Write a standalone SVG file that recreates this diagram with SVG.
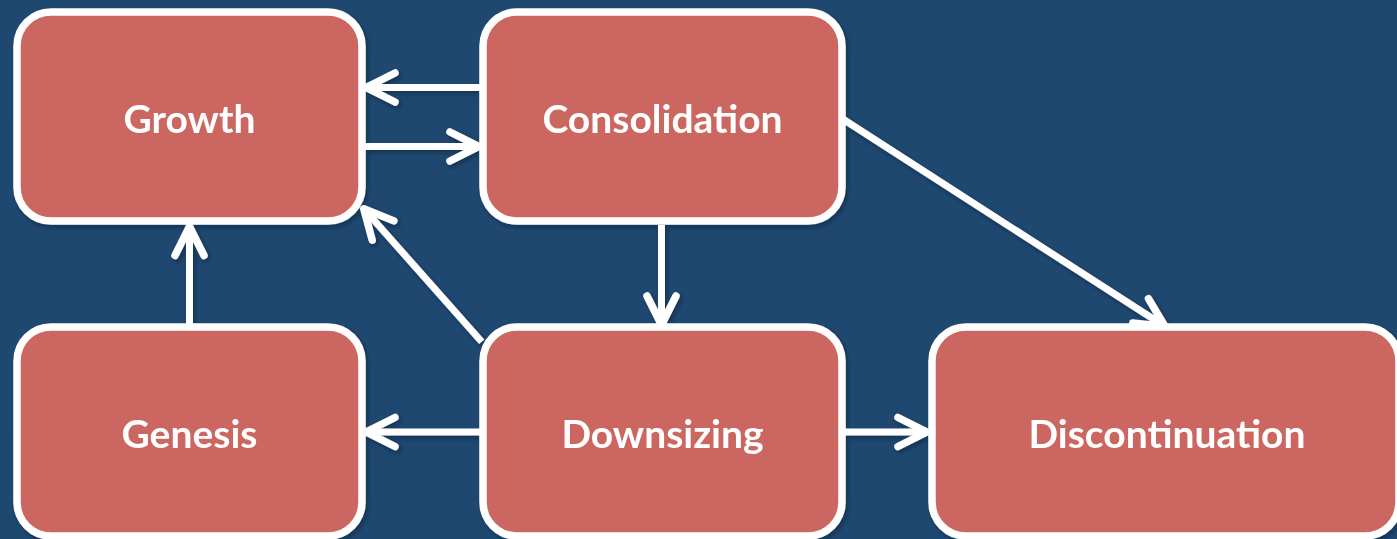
<svg xmlns="http://www.w3.org/2000/svg" width="1397" height="539" viewBox="0 0 1397 539">
  <style>
    .box { fill: #CC6660; stroke: #FFFFFF; stroke-width: 7.5; }
    .lbl { font-family: Lato, "Open Sans", "Liberation Sans", sans-serif; font-weight: bold; font-size: 39px; fill: #FFFFFF; text-anchor: middle; }
    .con { fill: none; stroke: #FFFFFF; stroke-width: 7; marker-end: url(#ah); }
  </style>
  <defs>
    <filter id="sh" filterUnits="userSpaceOnUse" x="0" y="0" width="1397" height="539">
      <feDropShadow dx="2" dy="2.5" stdDeviation="2" flood-color="#0A1A2E" flood-opacity="0.45"/>
    </filter>
    <marker id="ah" markerUnits="userSpaceOnUse" viewBox="-40 -25 50 50" refX="0" refY="0" markerWidth="50" markerHeight="50" orient="auto" overflow="visible">
      <path d="M-29,-14.5 L0,0 L-29,14.5" fill="none" stroke="#FFFFFF" stroke-width="7.5" stroke-linecap="round" stroke-linejoin="round"/>
    </marker>
  </defs>
  <rect width="1397" height="539" fill="#1F4870"/>

  <g filter="url(#sh)">
    <g id="growth">
      <rect class="box" x="17" y="12" width="345" height="209" rx="34"/>
      <text class="lbl" x="189.5" y="133">Growth</text>
    </g>
    <g id="consolidation">
      <rect class="box" x="483" y="12" width="359" height="209" rx="34"/>
      <text class="lbl" x="662.5" y="133">Consolidation</text>
    </g>
    <g id="genesis">
      <rect class="box" x="17" y="327" width="345" height="209" rx="34"/>
      <text class="lbl" x="189.5" y="448">Genesis</text>
    </g>
    <g id="downsizing">
      <rect class="box" x="483" y="327" width="359" height="209" rx="34"/>
      <text class="lbl" x="662.5" y="448">Downsizing</text>
    </g>
    <g id="discontinuation">
      <rect class="box" x="932" y="327" width="467" height="209" rx="34"/>
      <text class="lbl" x="1167" y="448">Discontinuation</text>
    </g>

    <g id="connectors">
      <path class="con" d="M481,87.5 L366,87.5"/>
      <path class="con" d="M363,146.5 L479,146.5"/>
      <path class="con" d="M189.5,326 L189.5,226.5"/>
      <path class="con" d="M661.5,225 L661.5,325"/>
      <path class="con" d="M481.7,341.7 L363.8,208.8"/>
      <path class="con" d="M481,432 L366,432"/>
      <path class="con" d="M845,432 L927,432"/>
      <path class="con" d="M842,118.5 L1165,326.5"/>
    </g>
  </g>
</svg>
